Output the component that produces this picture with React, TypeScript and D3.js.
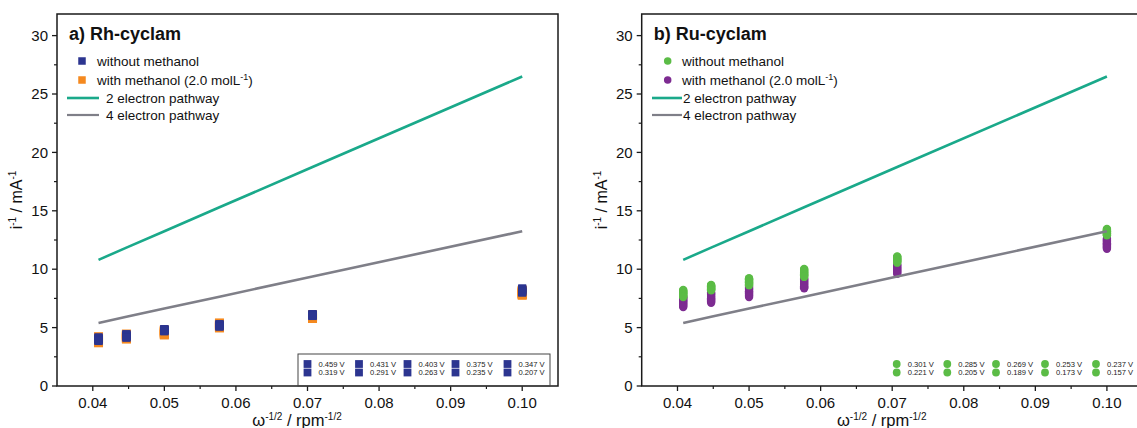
import React from "react";
import * as d3 from "d3";

// ω^-1/2 values (600, 500, 400, 300, 200, 100 rpm)
const rpmX = [0.0408, 0.0447, 0.05, 0.0577, 0.0707, 0.1];
const xTicks = [0.04, 0.05, 0.06, 0.07, 0.08, 0.09, 0.1];
const xTickLabels = ["0.04", "0.05", "0.06", "0.07", "0.08", "0.09", "0.10"];
const xMinor = [0.045, 0.055, 0.065, 0.075, 0.085, 0.095];
const yTicks = [0, 5, 10, 15, 20, 25, 30];
const yMinor = [2.5, 7.5, 12.5, 17.5, 22.5, 27.5];

const twoElectron = [10.8, 11.85, 13.25, 15.3, 18.75, 26.5];
const fourElectron = [5.4, 5.93, 6.63, 7.65, 9.37, 13.25];

const rhPotentials = ["0.459 V", "0.431 V", "0.403 V", "0.375 V", "0.347 V", "0.319 V", "0.291 V", "0.263 V", "0.235 V", "0.207 V"];
const ruPotentials = ["0.301 V", "0.285 V", "0.269 V", "0.253 V", "0.237 V", "0.221 V", "0.205 V", "0.189 V", "0.173 V", "0.157 V"];

const rhWithout = [
  [4.17, 4.44, 4.88, 5.3, 6.16, 8.36],
  [4.13, 4.41, 4.86, 5.28, 6.14, 8.32],
  [4.1, 4.38, 4.84, 5.25, 6.12, 8.27],
  [4.06, 4.34, 4.81, 5.22, 6.1, 8.22],
  [4.02, 4.3, 4.79, 5.2, 6.08, 8.18],
  [3.99, 4.27, 4.77, 5.17, 6.06, 8.14],
  [3.95, 4.23, 4.75, 5.15, 6.04, 8.1],
  [3.92, 4.2, 4.73, 5.13, 6.03, 8.06],
  [3.88, 4.16, 4.7, 5.1, 6.01, 8.03],
  [3.85, 4.13, 4.68, 5.08, 5.99, 7.99],
];
const rhWith = [
  [4.22, 4.45, 4.8, 5.4, 6.1, 8.2],
  [4.16, 4.4, 4.75, 5.35, 6.06, 8.15],
  [4.1, 4.35, 4.7, 5.3, 6.03, 8.1],
  [4.05, 4.3, 4.66, 5.25, 5.99, 8.05],
  [3.99, 4.25, 4.61, 5.2, 5.96, 8.0],
  [3.93, 4.21, 4.56, 5.16, 5.92, 7.96],
  [3.87, 4.16, 4.51, 5.11, 5.88, 7.91],
  [3.81, 4.11, 4.46, 5.06, 5.85, 7.86],
  [3.76, 4.06, 4.42, 5.01, 5.81, 7.82],
  [3.7, 4.02, 4.37, 4.97, 5.78, 7.77],
];
const ruWithout = [
  [8.22, 8.65, 9.22, 10.02, 11.1, 13.44],
  [8.15, 8.6, 9.15, 9.95, 11.04, 13.38],
  [8.09, 8.55, 9.09, 9.87, 10.98, 13.32],
  [8.02, 8.5, 9.02, 9.79, 10.92, 13.26],
  [7.95, 8.44, 8.95, 9.71, 10.86, 13.2],
  [7.89, 8.39, 8.89, 9.64, 10.8, 13.14],
  [7.82, 8.34, 8.82, 9.56, 10.74, 13.08],
  [7.75, 8.29, 8.75, 9.49, 10.68, 13.02],
  [7.69, 8.24, 8.69, 9.41, 10.62, 12.96],
  [7.62, 8.19, 8.62, 9.34, 10.56, 12.9],
];
const ruWith = [
  [7.6, 8.0, 8.5, 9.2, 10.4, 12.6],
  [7.51, 7.9, 8.4, 9.11, 10.31, 12.51],
  [7.41, 7.81, 8.3, 9.01, 10.22, 12.41],
  [7.32, 7.71, 8.21, 8.92, 10.13, 12.32],
  [7.23, 7.61, 8.11, 8.83, 10.04, 12.22],
  [7.13, 7.52, 8.01, 8.73, 9.96, 12.13],
  [7.04, 7.42, 7.91, 8.64, 9.87, 12.04],
  [6.95, 7.32, 7.82, 8.55, 9.78, 11.94],
  [6.85, 7.23, 7.72, 8.45, 9.69, 11.85],
  [6.76, 7.13, 7.62, 8.36, 9.6, 11.75],
];

const FONT = "'Liberation Sans', Arial, Helvetica, sans-serif";
const TEAL = "#1aa98a";
const GREY = "#7f7f88";
const FRAME = "#1a1a1a";

type PanelProps = {
  left: number;
  title: string;
  marker: "square" | "circle";
  colorWithout: string;
  colorWith: string;
  without: number[][];
  withM: number[][];
  potentials: string[];
  yLabelX: number;
  legendLineX0: number;
  legendLineX1: number;
  legendLineTextX: number;
  legendMarkerX: number;
  legendMarkerTextX: number;
  insetX: number[];
  insetBox: boolean;
};

function Marker({ type, x, y, size, color }: { type: string; x: number; y: number; size: number; color: string }) {
  if (type === "square") {
    return <rect x={x - size / 2} y={y - size / 2} width={size} height={size} fill={color} />;
  }
  return <circle cx={x} cy={y} r={size / 2} fill={color} />;
}

function Panel(p: PanelProps) {
  const width = 501;
  const top = 14;
  const bottom = 386;
  const x = d3.scaleLinear().domain([0.035, 0.105]).range([p.left, p.left + width]);
  const y = d3.scaleLinear().domain([0, 31.85]).range([bottom, top]);
  const line = d3
    .line<number>()
    .x((_, i) => x(rpmX[i]))
    .y((d) => y(d));
  const isSq = p.marker === "square";
  const sizeWithout = isSq ? 8 : 8.4;
  const sizeWith = isSq ? 9 : 8.4;

  return (
    <g fontFamily={FONT}>
      {/* data points */}
      {p.withM.map((row, r) =>
        row.map((v, i) => (
          <Marker key={`w${r}-${i}`} type={p.marker} x={x(rpmX[i])} y={y(v)} size={sizeWith} color={p.colorWith} />
        ))
      )}
      {p.without.map((row, r) =>
        row.map((v, i) => (
          <Marker key={`o${r}-${i}`} type={p.marker} x={x(rpmX[i])} y={y(v)} size={sizeWithout} color={p.colorWithout} />
        ))
      )}
      {/* pathways */}
      <path d={line(twoElectron) || ""} fill="none" stroke={TEAL} strokeWidth={2.6} />
      <path d={line(fourElectron) || ""} fill="none" stroke={GREY} strokeWidth={2.6} />

      {/* frame */}
      <rect x={p.left} y={top} width={width} height={bottom - top} fill="none" stroke={FRAME} strokeWidth={1.5} />

      {/* y ticks */}
      {yTicks.map((t) => (
        <g key={`yt${t}`}>
          <line x1={p.left - 5} x2={p.left} y1={y(t)} y2={y(t)} stroke={FRAME} strokeWidth={1.3} />
          <text x={p.left - 9} y={y(t)} dy="0.35em" textAnchor="end" fontSize={15} fill="#111">
            {t}
          </text>
        </g>
      ))}
      {yMinor.map((t) => (
        <line key={`ym${t}`} x1={p.left - 3} x2={p.left} y1={y(t)} y2={y(t)} stroke={FRAME} strokeWidth={1.2} />
      ))}
      {/* x ticks */}
      {xTicks.map((t, i) => (
        <g key={`xt${t}`}>
          <line x1={x(t)} x2={x(t)} y1={bottom} y2={bottom + 5} stroke={FRAME} strokeWidth={1.3} />
          <text x={x(t)} y={bottom + 22} textAnchor="middle" fontSize={15} fill="#111">
            {xTickLabels[i]}
          </text>
        </g>
      ))}
      {xMinor.map((t) => (
        <line key={`xm${t}`} x1={x(t)} x2={x(t)} y1={bottom} y2={bottom + 3} stroke={FRAME} strokeWidth={1.2} />
      ))}

      {/* axis titles */}
      <text x={p.left + 240} y={426} textAnchor="middle" fontSize={16.5} fill="#111">
        ω<tspan dy={-6} fontSize={10}>-1/2</tspan>
        <tspan dy={6}> / rpm</tspan>
        <tspan dy={-6} fontSize={10}>-1/2</tspan>
      </text>
      <text
        transform={`translate(${p.yLabelX},200) rotate(-90)`}
        textAnchor="middle"
        fontSize={16}
        fill="#111"
      >
        i<tspan dy={-6} fontSize={10}>-1</tspan>
        <tspan dy={6}> / mA</tspan>
        <tspan dy={-6} fontSize={10}>-1</tspan>
      </text>

      {/* title */}
      <text x={p.left + 12} y={40} fontSize={18} fontWeight="bold" fill="#111">
        {p.title}
      </text>

      {/* legend */}
      <Marker type={p.marker} x={p.legendMarkerX} y={61} size={7.5} color={p.colorWithout} />
      <text x={p.legendMarkerTextX} y={61} dy="0.35em" fontSize={13.5} fill="#111">
        without methanol
      </text>
      <Marker type={p.marker} x={p.legendMarkerX} y={80} size={7.5} color={p.colorWith} />
      <text x={p.legendMarkerTextX} y={80} dy="0.35em" fontSize={13.5} fill="#111">
        with methanol (2.0 molL<tspan dy={-5} fontSize={9}>-1</tspan>
        <tspan dy={5}>)</tspan>
      </text>
      <line x1={p.legendLineX0} x2={p.legendLineX1} y1={98} y2={98} stroke={TEAL} strokeWidth={2.6} />
      <text x={p.legendLineTextX} y={98} dy="0.35em" fontSize={13.5} fill="#111">
        2 electron pathway
      </text>
      <line x1={p.legendLineX0} x2={p.legendLineX1} y1={115} y2={115} stroke={GREY} strokeWidth={2.2} />
      <text x={p.legendLineTextX} y={115} dy="0.35em" fontSize={13.5} fill="#111">
        4 electron pathway
      </text>

      {/* inset potential legend */}
      {p.insetBox && (
        <rect x={p.insetX[0] - 9.5} y={354} width={252} height={bottom - 354} fill="none" stroke="#444" strokeWidth={1} />
      )}
      {p.potentials.map((lab, k) => {
        const col = k % 5;
        const row = Math.floor(k / 5);
        const cx = p.insetX[col];
        const cy = row === 0 ? 364 : 372.5;
        return (
          <g key={`pl${k}`}>
            <Marker type={p.marker} x={cx} y={cy} size={7.8} color={p.colorWithout} />
            <text x={cx + 11} y={cy} dy="0.35em" fontSize={7.6} fill="#222">
              {lab}
            </text>
          </g>
        );
      })}
    </g>
  );
}

export default function App() {
  return (
    <svg
      width={1137}
      height={428}
      viewBox="0 0 1137 428"
      style={{ position: "absolute", left: 0, top: 0, background: "#fff" }}
    >
      <rect x={0} y={0} width={1137} height={428} fill="#fff" />
      <Panel
        left={57}
        title="a) Rh-cyclam"
        marker="square"
        colorWithout="#2c3590"
        colorWith="#f5891f"
        without={rhWithout}
        withM={rhWith}
        potentials={rhPotentials}
        yLabelX={22}
        legendLineX0={67}
        legendLineX1={99}
        legendLineTextX={106}
        legendMarkerX={82}
        legendMarkerTextX={97}
        insetX={[307.5, 359, 407.5, 455.5, 507.5]}
        insetBox={true}
      />
      <Panel
        left={641.7}
        title="b) Ru-cyclam"
        marker="circle"
        colorWithout="#5bbc46"
        colorWith="#7d2b91"
        without={ruWithout}
        withM={ruWith}
        potentials={ruPotentials}
        yLabelX={607}
        legendLineX0={652}
        legendLineX1={682}
        legendLineTextX={683}
        legendMarkerX={667.7}
        legendMarkerTextX={682}
        insetX={[896.7, 947.3, 996, 1045, 1096]}
        insetBox={false}
      />
    </svg>
  );
}
